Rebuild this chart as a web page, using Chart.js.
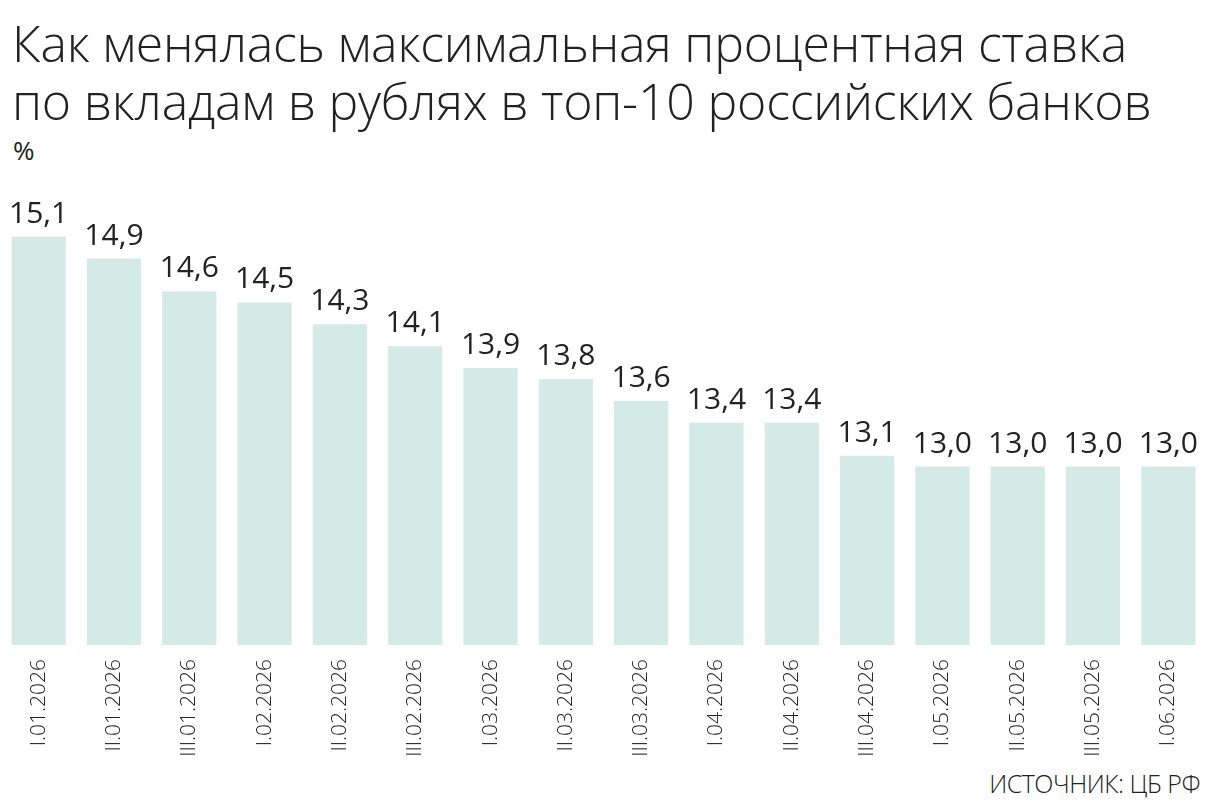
<!DOCTYPE html>
<html lang="ru">
<head>
<meta charset="utf-8">
<script src="https://cdn.jsdelivr.net/npm/chart.js@4.4.1/dist/chart.umd.min.js"></script>
<style>
  html, body { margin: 0; padding: 0; background: #fff; }
  body { width: 1222px; height: 802px; position: relative; overflow: hidden; font-family: "Open Sans", sans-serif; color: #222; }
  #title { position: absolute; left: 12px; top: 14px; margin: 0; font-weight: 300; font-size: 50px; line-height: 58px; letter-spacing: -0.2px; }
  #unit { position: absolute; left: 13px; top: 132px; font-size: 26px; font-weight: 400; }
  #source { position: absolute; right: 22px; top: 766px; font-size: 25px; font-weight: 300; letter-spacing: -0.5px; }
  #wrap { position: absolute; left: 0; top: 170px; width: 1222px; height: 590px; }
</style>
</head>
<body>
<h1 id="title">Как менялась максимальная процентная ставка<br>по вкладам в рублях в топ-10 российских банков</h1>
<div id="unit">%</div>
<div id="wrap"><canvas id="grafica"></canvas></div>
<div id="source">ИСТОЧНИК: ЦБ РФ</div>
<script>
// периоды (декады месяца)
const periodos = [
  'I.01.2026', 'II.01.2026', 'III.01.2026',
  'I.02.2026', 'II.02.2026', 'III.02.2026',
  'I.03.2026', 'II.03.2026', 'III.03.2026',
  'I.04.2026', 'II.04.2026', 'III.04.2026',
  'I.05.2026', 'II.05.2026', 'III.05.2026',
  'I.06.2026'
];

// максимальная ставка, %
const tasas = [15.1, 14.9, 14.6, 14.5, 14.3, 14.1, 13.9, 13.8, 13.6, 13.4, 13.4, 13.1, 13.0, 13.0, 13.0, 13.0];

const colorBarra = '#d3ebe4';

/* подписи значений над столбиками */
const etiquetas = {
  id: 'etiquetas',
  afterDatasetsDraw(chart) {
    const ctx = chart.ctx;
    const meta = chart.getDatasetMeta(0);
    ctx.save();
    ctx.fillStyle = '#222';
    ctx.font = '500 30px "Open Sans"';
    ctx.textAlign = 'center';
    ctx.textBaseline = 'alphabetic';
    meta.data.forEach((bar, i) => {
      const txt = tasas[i].toFixed(1).replace('.', ',');
      ctx.fillText(txt, bar.x, bar.y - 14);
    });
    ctx.restore();
  }
};

const ctx = document.getElementById('grafica').getContext('2d');
const chart = new Chart(ctx, {
  type: 'bar',
  data: {
    labels: periodos,
    datasets: [
      {
        data: tasas,
        backgroundColor: colorBarra,
        borderWidth: 0,
        categoryPercentage: 1,
        barPercentage: 0.72
      }
    ]
  },
  options: {
    responsive: true,
    maintainAspectRatio: false,
    animation: false,
    layout: { padding: { top: 12, left: 1, right: 16, bottom: 0 } },
    plugins: {
      legend: { display: false },
      tooltip: { enabled: false }
    },
    scales: {
      x: {
        grid: { display: false },
        border: { display: false },
        ticks: {
          color: '#222',
          font: { family: 'Open Sans', size: 21, weight: 300 },
          minRotation: 90,
          maxRotation: 90,
          padding: 6,
          autoSkip: false
        },
        afterFit: (s) => { s.height = 115; }
      },
      y: {
        display: false,
        min: 11.37,
        max: 15.6
      }
    }
  },
  plugins: [etiquetas]
});
</script>
</body>
</html>
